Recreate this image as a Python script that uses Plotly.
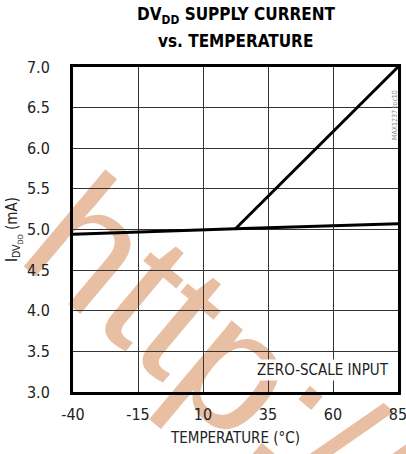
import plotly.graph_objects as go

# Supply current vs. temperature, zero-scale input
temp_flat = [-40, 22.5, 85]
curr_flat = [4.94, 5.01, 5.07]
temp_rise = [22.5, 85]
curr_rise = [5.01, 7.0]

x_ticks = [-40, -15, 10, 35, 60, 85]
y_ticks = [3.0, 3.5, 4.0, 4.5, 5.0, 5.5, 6.0, 6.5, 7.0]

FONT = "DejaVu Sans Condensed, Liberation Sans Narrow, sans-serif"

fig = go.Figure()
for xs, ys in [(temp_flat, curr_flat), (temp_rise, curr_rise)]:
    fig.add_trace(go.Scatter(x=xs, y=ys, mode="lines",
                             line=dict(color="black", width=3),
                             showlegend=False, hoverinfo="skip"))

fig.update_layout(
    width=406, height=454,
    margin=dict(l=73, r=8, t=67, b=62),
    paper_bgcolor="white", plot_bgcolor="rgba(0,0,0,0)",
    font=dict(family=FONT, color="#222", size=15),
    xaxis=dict(range=[-40, 85], tickvals=x_ticks, ticktext=[str(v) for v in x_ticks],
               showgrid=True, gridcolor="#333", gridwidth=1,
               showline=True, linecolor="black", linewidth=3, mirror=True,
               ticks="", zeroline=False, ticklabelstandoff=6, automargin=False,
               ticklabeloverflow="allow", tickfont=dict(size=16),
               title=dict(text="TEMPERATURE (°C)", standoff=10, font=dict(size=15))),
    yaxis=dict(range=[3.0, 7.0], tickvals=y_ticks, ticktext=[f"{v:.1f}" for v in y_ticks],
               showgrid=True, gridcolor="#333", gridwidth=1,
               showline=True, linecolor="black", linewidth=3, mirror=True,
               ticks="", zeroline=False, ticklabelstandoff=17, automargin=False,
               ticklabeloverflow="allow", tickfont=dict(size=16),
               title=dict(text="I<sub>DV<sub>DD</sub></sub> (mA)", standoff=6, font=dict(size=15))),
)

# Two-line bold heading
fig.add_annotation(text="<b>DV<sub>DD</sub> SUPPLY CURRENT</b>", xref="paper", yref="paper",
                   x=0.5, y=(392 - 15) / 325, xanchor="center", yanchor="middle",
                   showarrow=False, font=dict(size=17, color="black"))
fig.add_annotation(text="<b>vs. TEMPERATURE</b>", xref="paper", yref="paper",
                   x=0.5, y=(392 - 41) / 325, xanchor="center", yanchor="middle",
                   showarrow=False, font=dict(size=17, color="black"))

fig.add_annotation(text="ZERO-SCALE INPUT", xref="paper", yref="paper",
                   x=0.978, y=0.035, xanchor="right", yanchor="bottom",
                   showarrow=False, font=dict(size=15, color="#222"),
                   bgcolor="white")
fig.add_annotation(text="MAX1237 toc10", xref="paper", yref="paper",
                   x=(401 - 73) / 325, y=(392 - 88) / 325, textangle=-90, showarrow=False,
                   font=dict(size=7, color="#888"))

# Diagonal watermark drawn underneath the grid and curves
cx, cy = (232 - 73) / 325, (392 - 340) / 325
fig.add_shape(type="rect", xref="paper", yref="paper", layer="below",
              x0=cx - 0.005, x1=cx + 0.005, y0=cy - 0.005, y1=cy + 0.005,
              line=dict(width=0), fillcolor="rgba(0,0,0,0)",
              label=dict(text="http://", textangle=40, textposition="middle center",
                         font=dict(family="Liberation Sans, Arial, sans-serif", size=175,
                                   color="#E9BFA3")))

fig.write_html("out.html")
